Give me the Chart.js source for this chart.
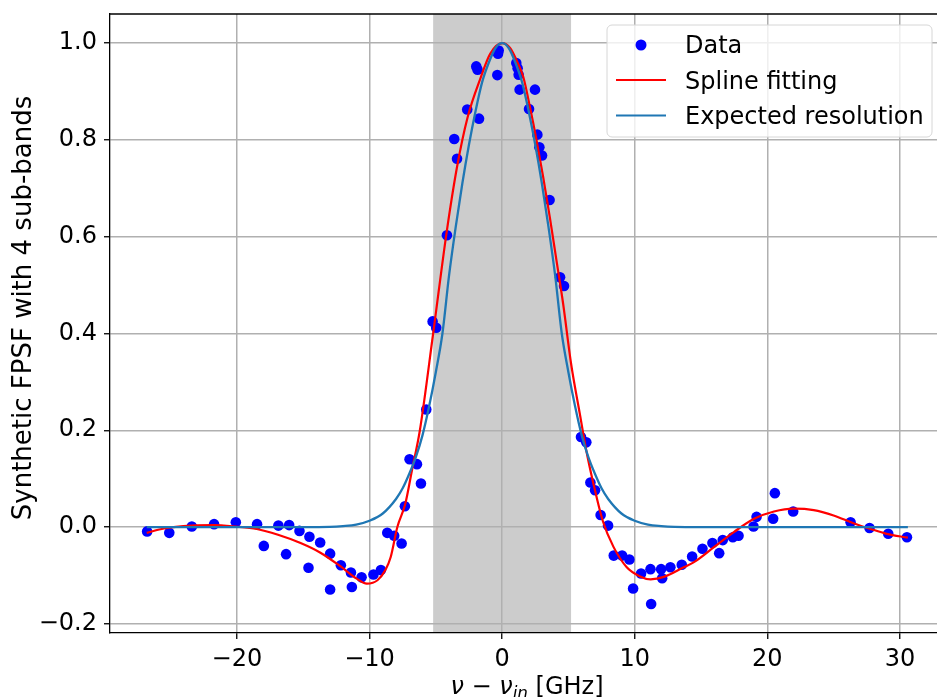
<!DOCTYPE html>
<html>
<head>
<meta charset="utf-8">
<script src="https://cdn.jsdelivr.net/npm/chart.js@4.4.0/dist/chart.umd.min.js"></script>
<style>
  html, body { margin: 0; padding: 0; background: #fff; overflow: hidden; }
  #wrap { width: 943px; height: 697px; }
</style>
</head>
<body>
<div id="wrap"><canvas id="chart" width="943" height="697"></canvas></div>
<script>
// measured points
const dataX = [-26.77, -25.1, -23.4, -21.72, -20.08, -18.48, -17.97, -16.87, -16.29, -16.06,
  -15.28, -14.6, -14.53, -13.72, -12.97, -12.97, -12.16, -11.4, -11.33, -10.6,
  -9.7, -9.14, -8.66, -8.14, -7.58, -7.33, -6.98, -6.42, -6.12, -5.72,
  -5.24, -4.97, -4.16, -3.61, -3.40, -2.63, -1.95, -1.85, -1.74, -0.36,
  -0.31, -0.26, 1.07, 1.17, 1.25, 1.32, 2.03, 2.48, 2.66, 2.81,
  3.01, 3.58, 4.37, 4.67, 5.95, 6.35, 6.66, 7.01, 7.43, 7.99,
  8.42, 9.05, 9.6, 9.88, 10.48, 11.19, 11.24, 11.99, 12.07, 12.69,
  13.55, 14.33, 15.11, 15.86, 16.37, 16.64, 17.4, 17.83, 18.96, 19.19,
  20.44, 20.57, 21.95, 26.28, 27.71, 29.12, 30.53];
const dataY = [-0.009, -0.012, 0.001, 0.006, 0.010, 0.006, -0.039, 0.003, -0.056, 0.004,
  -0.008, -0.084, -0.020, -0.032, -0.055, -0.129, -0.079, -0.094, -0.124, -0.104,
  -0.098, -0.089, -0.012, -0.018, -0.034, 0.043, 0.140, 0.130, 0.090, 0.243,
  0.425, 0.412, 0.603, 0.802, 0.761, 0.863, 0.952, 0.945, 0.844, 0.934,
  0.978, 0.985, 0.959, 0.948, 0.935, 0.904, 0.864, 0.904, 0.811, 0.785,
  0.768, 0.676, 0.516, 0.498, 0.186, 0.175, 0.092, 0.076, 0.025, 0.003,
  -0.059, -0.059, -0.067, -0.127, -0.096, -0.087, -0.159, -0.087, -0.106, -0.083,
  -0.078, -0.061, -0.045, -0.033, -0.054, -0.027, -0.021, -0.018, 0.001, 0.021,
  0.017, 0.070, 0.032, 0.010, -0.002, -0.014, -0.021];

// spline fit
const splineX = [-26.8, -25.5, -23.4, -21.8, -20.1, -18.5, -16.9, -15.2, -13.7, -12.2,
  -11.0, -10.2, -9.4, -8.8, -8.4, -7.9, -7.3, -6.8, -6.2, -5.2,
  -4.2, -3.4, -2.6, -1.6, -0.9, 0.0, 0.6, 1.1, 1.6, 2.1,
  2.6, 3.1, 3.6, 4.1, 4.6, 5.2, 5.9, 6.3, 6.9, 7.6,
  8.4, 9.4, 10.4, 11.2, 12.2, 13.7, 14.5, 16.0, 17.5, 19.0,
  20.5, 22.0, 23.5, 25.0, 26.5, 27.8, 29.0, 30.6];
const splineY = [-0.012, -0.003, 0.003, 0.004, 0.001, -0.004, -0.016, -0.033, -0.053, -0.081,
  -0.106, -0.117, -0.110, -0.089, -0.062, 0.0, 0.048, 0.117, 0.20, 0.40,
  0.606, 0.744, 0.847, 0.93, 0.978, 1.0, 0.99, 0.964, 0.93, 0.868,
  0.799, 0.723, 0.64, 0.551, 0.462, 0.338, 0.228, 0.165, 0.088, 0.012,
  -0.041, -0.083, -0.102, -0.108, -0.103, -0.083, -0.072, -0.041, -0.010, 0.017,
  0.032, 0.038, 0.035, 0.024, 0.008, -0.004, -0.014, -0.022];

// expected resolution
const resX = [-26.8, -15, -13, -12, -11, -10, -9, -8, -7.5, -7, -6.5, -6, -5.5, -5, -4.5, -4,
  -3.5, -3, -2.5, -2, -1.5, -1, -0.5, 0, 0.5, 1, 1.5, 2, 2.5, 3, 3.5,
  4, 4.5, 5, 5.5, 6, 6.5, 7, 7.5, 8, 9, 10, 11, 12, 13, 15, 30.6];
const resY = [0, 0, 0.0005, 0.002, 0.005, 0.013, 0.028, 0.058, 0.08, 0.11, 0.145, 0.19, 0.25, 0.32, 0.40, 0.52,
  0.62, 0.71, 0.79, 0.86, 0.92, 0.96, 0.99, 1.0, 0.99, 0.96, 0.92, 0.86, 0.79, 0.71, 0.62,
  0.52, 0.40, 0.32, 0.25, 0.19, 0.145, 0.11, 0.08, 0.058, 0.028, 0.013, 0.005, 0.002, 0.0005, 0, 0];

const xTicks = [-20, -10, 0, 10, 20, 30];
const yTicks = [-0.2, 0.0, 0.2, 0.4, 0.6, 0.8, 1.0];
const band = [-5.2, 5.2];

const FONT = "'DejaVu Sans', 'Liberation Sans', sans-serif";
const FS = 24;

function pts(xs, ys) {
    return xs.map((x, i) => ({ x: x, y: ys[i] }));
}

function minusFmt(v, digits) {
    const s = digits ? Math.abs(v).toFixed(digits) : String(Math.abs(v));
    return (v < 0 ? "\u2212" : "") + s;
}

function noPad(s) {
    s.paddingTop = 0;
    s.paddingBottom = 0;
    s.paddingLeft = 0;
    s.paddingRight = 0;
}

// grey band behind the grid
const bandPlugin = {
    id: "band",
    beforeDraw(chart) {
        const { ctx, chartArea, scales } = chart;
        const x0 = scales.x.getPixelForValue(band[0]);
        const x1 = scales.x.getPixelForValue(band[1]);
        ctx.save();
        ctx.fillStyle = "#cccccc";
        ctx.fillRect(x0, chartArea.top, x1 - x0, chartArea.bottom - chartArea.top);
        ctx.restore();
    }
};

// top spine, axis labels and legend
const decoPlugin = {
    id: "deco",
    afterDraw(chart) {
        const { ctx, chartArea } = chart;
        ctx.save();

        ctx.strokeStyle = "#000";
        ctx.lineWidth = 1.3;
        ctx.beginPath();
        ctx.moveTo(chartArea.left, chartArea.top);
        ctx.lineTo(chartArea.right, chartArea.top);
        ctx.stroke();

        // x label: ν − ν_in [GHz]
        const parts = [
            { t: "\u03bd", font: "italic " + FS + "px " + FONT, dy: 0 },
            { t: " \u2212 ", font: FS + "px " + FONT, dy: 0 },
            { t: "\u03bd", font: "italic " + FS + "px " + FONT, dy: 0 },
            { t: "in", font: "italic " + (FS * 0.7) + "px " + FONT, dy: 5 },
            { t: " [GHz]", font: FS + "px " + FONT, dy: 0 }
        ];
        let total = 0;
        parts.forEach(p => { ctx.font = p.font; p.w = ctx.measureText(p.t).width; total += p.w; });
        let xx = 527 - total / 2;
        ctx.fillStyle = "#000";
        ctx.textBaseline = "alphabetic";
        ctx.textAlign = "left";
        parts.forEach(p => {
            ctx.font = p.font;
            ctx.fillText(p.t, xx, 694 + p.dy);
            xx += p.w;
        });

        // y label
        ctx.save();
        ctx.translate(31, 308);
        ctx.rotate(-Math.PI / 2);
        ctx.font = "26px " + FONT;
        ctx.textAlign = "center";
        ctx.textBaseline = "alphabetic";
        ctx.fillText("Synthetic FPSF with 4 sub-bands", 0, 0);
        ctx.restore();

        // legend
        const lx = 607, ly = 25, lw = 325, lh = 112, r = 5;
        ctx.beginPath();
        ctx.moveTo(lx + r, ly);
        ctx.arcTo(lx + lw, ly, lx + lw, ly + lh, r);
        ctx.arcTo(lx + lw, ly + lh, lx, ly + lh, r);
        ctx.arcTo(lx, ly + lh, lx, ly, r);
        ctx.arcTo(lx, ly, lx + lw, ly, r);
        ctx.closePath();
        ctx.fillStyle = "rgba(255,255,255,0.8)";
        ctx.fill();
        ctx.strokeStyle = "#d6d6d6";
        ctx.lineWidth = 1;
        ctx.stroke();

        ctx.fillStyle = "#0000ff";
        ctx.beginPath();
        ctx.arc(641, 45, 5.5, 0, Math.PI * 2);
        ctx.fill();

        ctx.lineWidth = 2;
        ctx.strokeStyle = "#ff0000";
        ctx.beginPath(); ctx.moveTo(616, 80); ctx.lineTo(666, 80); ctx.stroke();
        ctx.strokeStyle = "#1f77b4";
        ctx.beginPath(); ctx.moveTo(616, 115.5); ctx.lineTo(666, 115.5); ctx.stroke();

        ctx.fillStyle = "#000";
        ctx.font = FS + "px " + FONT;
        ctx.textAlign = "left";
        ctx.fillText("Data", 685, 53);
        ctx.fillText("Spline fitting", 685, 88.5);
        ctx.fillText("Expected resolution", 685, 124);

        ctx.restore();
    }
};

Chart.defaults.font.family = FONT;
Chart.defaults.color = "#000";

new Chart(document.getElementById("chart"), {
    type: "scatter",
    data: {
        datasets: [
            {
                label: "Data",
                data: pts(dataX, dataY),
                backgroundColor: "#0000ff",
                borderColor: "#0000ff",
                pointRadius: 5.3,
                pointBorderWidth: 0,
                showLine: false,
                order: 3
            },
            {
                label: "Spline fitting",
                data: pts(splineX, splineY),
                borderColor: "#ff0000",
                borderWidth: 2.2,
                pointRadius: 0,
                showLine: true,
                cubicInterpolationMode: "monotone",
                order: 2
            },
            {
                label: "Expected resolution",
                data: pts(resX, resY),
                borderColor: "#1f77b4",
                borderWidth: 2.3,
                pointRadius: 0,
                showLine: true,
                cubicInterpolationMode: "monotone",
                order: 1
            }
        ]
    },
    options: {
        responsive: false,
        animation: false,
        layout: { padding: { top: 14, right: 0, left: 0, bottom: 0 } },
        plugins: {
            legend: { display: false },
            tooltip: { enabled: false }
        },
        scales: {
            x: {
                type: "linear",
                min: -29.57,
                max: 32.85,
                afterBuildTicks: s => { s.ticks = xTicks.map(v => ({ value: v })); },
                afterFit: s => { s.height = 64; noPad(s); },
                ticks: {
                    font: { size: FS },
                    padding: 6,
                    maxRotation: 0,
                    autoSkip: false,
                    callback: v => minusFmt(v, 0)
                },
                grid: { color: "#b0b0b0", lineWidth: 1.5, tickColor: "#000", tickLength: 6, tickWidth: 1.3 },
                border: { display: true, color: "#000", width: 1.3 }
            },
            y: {
                type: "linear",
                min: -0.219,
                max: 1.0603,
                afterBuildTicks: s => { s.ticks = yTicks.map(v => ({ value: v })); },
                afterFit: s => { s.width = 110; noPad(s); },
                ticks: {
                    font: { size: FS },
                    padding: 7,
                    autoSkip: false,
                    callback: v => minusFmt(v, 1)
                },
                grid: { color: "#b0b0b0", lineWidth: 1.5, tickColor: "#000", tickLength: 6, tickWidth: 1.3 },
                border: { display: true, color: "#000", width: 1.3 }
            }
        }
    },
    plugins: [bandPlugin, decoPlugin]
});
</script>
</body>
</html>
